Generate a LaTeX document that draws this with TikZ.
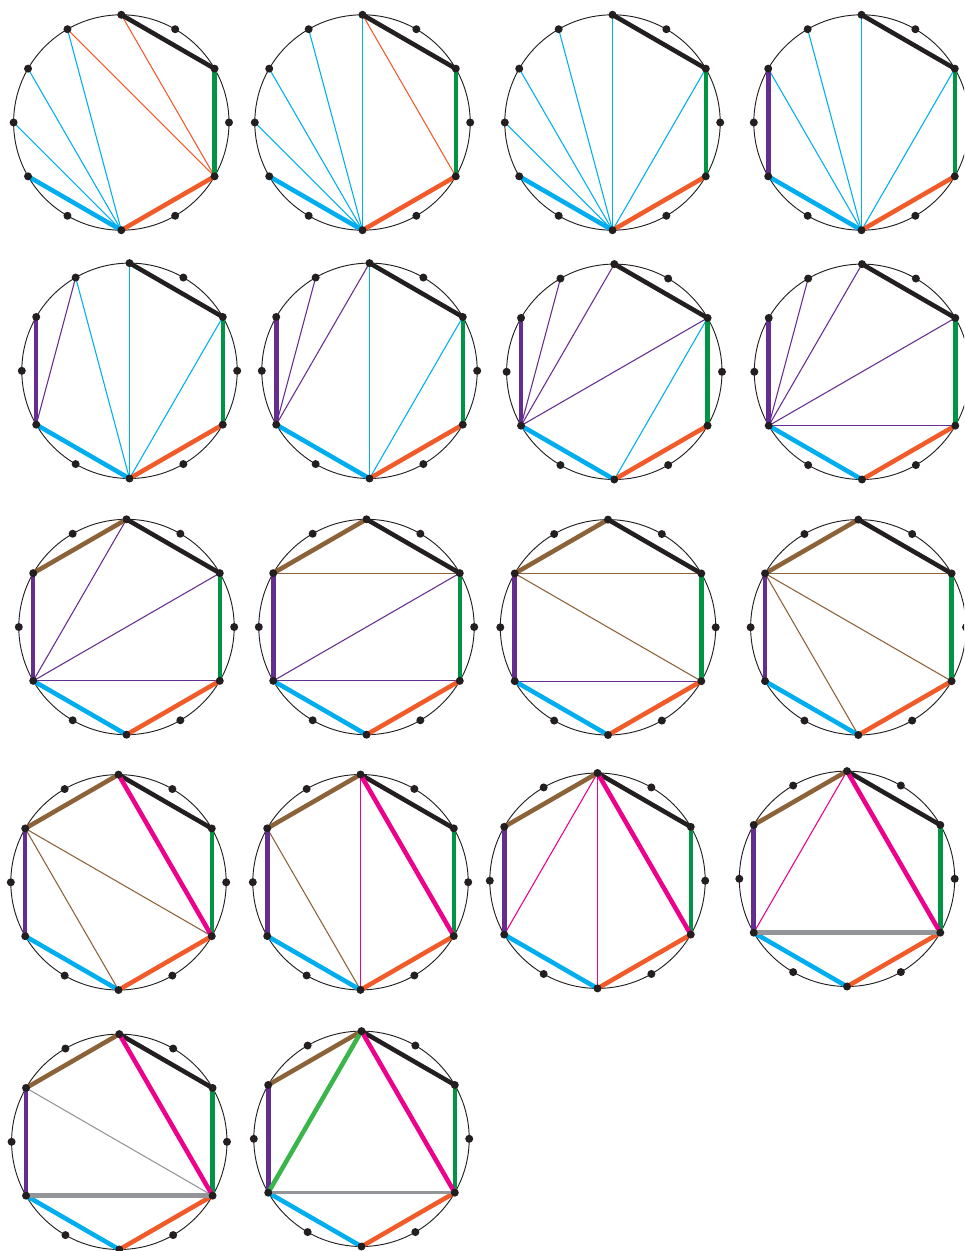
\documentclass[tikz,border=0pt]{standalone}
\usetikzlibrary{calc}
\definecolor{cBlack}{RGB}{35,31,32}
\definecolor{cGreen}{RGB}{0,148,68}
\definecolor{cOrange}{RGB}{241,90,41}
\definecolor{cCyan}{RGB}{0,174,239}
\definecolor{cPurple}{RGB}{102,45,145}
\definecolor{cBrown}{RGB}{140,98,57}
\definecolor{cMagenta}{RGB}{236,0,140}
\definecolor{cGray}{RGB}{147,149,152}
\definecolor{cLime}{RGB}{57,181,74}
\tikzset{
  rim/.style={draw=cBlack,line width=0.7pt},
  thick edge/.style={line width=3.4pt},
  diag/.style={line width=0.8pt},
  eBlack/.style={thick edge,draw=cBlack},
  eGreen/.style={thick edge,draw=cGreen},
  eOrange/.style={thick edge,draw=cOrange},
  eCyan/.style={thick edge,draw=cCyan},
  ePurple/.style={thick edge,draw=cPurple},
  eBrown/.style={thick edge,draw=cBrown},
  eMagenta/.style={thick edge,draw=cMagenta},
  eGray/.style={thick edge,draw=cGray},
  eLime/.style={thick edge,draw=cLime},
  dCyan/.style={diag,draw=cCyan},
  dOrange/.style={diag,draw=cOrange},
  dPurple/.style={diag,draw=cPurple},
  dBrown/.style={diag,draw=cBrown},
  dMagenta/.style={diag,draw=cMagenta},
  dGray/.style={diag,draw=cGray},
  dotmark/.style={fill=cBlack}
}
\newcommand\wheel[3]{%
  \draw[rim] (#2,#3) circle[radius=107.7];
  \foreach \k in {0,...,11}{%
    \pgfmathsetmacro\ang{30*\k-90}%
    \coordinate (#1-\k) at ($(#2,#3)+(\ang:107.7)$);}%
}
\newcommand\wheeldots[1]{\foreach \k in {0,...,11}{\fill[dotmark] (#1-\k) circle[radius=4];}}
\newcommand\edgesA[1]{%
  \draw[eBlack] (#1-0) -- (#1-2);
  \draw[eGreen] (#1-2) -- (#1-4);
  \draw[eOrange] (#1-4) -- (#1-6);
  \draw[eCyan] (#1-6) -- (#1-8);}
\newcommand\edgesB[1]{\edgesA{#1}\draw[ePurple] (#1-8) -- (#1-10);}
\newcommand\edgesC[1]{\edgesB{#1}\draw[eBrown] (#1-10) -- (#1-0);}
\begin{document}
\begin{tikzpicture}[x=0.75pt,y=-0.75pt]
\useasboundingbox (0,0) rectangle (964,1251);
\clip (0,0) rectangle (964,1251);
% row 1
\wheel{a}{121.3}{122.5}
\draw[dCyan] (a-6) -- (a-9); \draw[dCyan] (a-6) -- (a-10); \draw[dCyan] (a-6) -- (a-11);
\draw[dOrange] (a-4) -- (a-11); \draw[dOrange] (a-4) -- (a-0);
\edgesA{a}\wheeldots{a}

\wheel{b}{362.5}{122.5}
\draw[dCyan] (b-6) -- (b-9); \draw[dCyan] (b-6) -- (b-10); \draw[dCyan] (b-6) -- (b-11); \draw[dCyan] (b-6) -- (b-0);
\draw[dOrange] (b-4) -- (b-0);
\edgesA{b}\wheeldots{b}

\wheel{c}{612.5}{122.5}
\draw[dCyan] (c-6) -- (c-9); \draw[dCyan] (c-6) -- (c-10); \draw[dCyan] (c-6) -- (c-11); \draw[dCyan] (c-6) -- (c-0); \draw[dCyan] (c-6) -- (c-2);
\edgesA{c}\wheeldots{c}

\wheel{d}{861.5}{122.5}
\draw[dCyan] (d-6) -- (d-10); \draw[dCyan] (d-6) -- (d-11); \draw[dCyan] (d-6) -- (d-0); \draw[dCyan] (d-6) -- (d-2);
\edgesB{d}\wheeldots{d}
% row 2
\wheel{e}{129.5}{370.8}
\draw[dPurple] (e-8) -- (e-11);
\draw[dCyan] (e-6) -- (e-11); \draw[dCyan] (e-6) -- (e-0); \draw[dCyan] (e-6) -- (e-2);
\edgesB{e}\wheeldots{e}

\wheel{f}{369.5}{370.8}
\draw[dPurple] (f-8) -- (f-11); \draw[dPurple] (f-8) -- (f-0);
\draw[dCyan] (f-6) -- (f-0); \draw[dCyan] (f-6) -- (f-2);
\edgesB{f}\wheeldots{f}

\wheel{g}{614.3}{371.8}
\draw[dPurple] (g-8) -- (g-11); \draw[dPurple] (g-8) -- (g-0); \draw[dPurple] (g-8) -- (g-2);
\draw[dCyan] (g-6) -- (g-2);
\edgesB{g}\wheeldots{g}

\wheel{h}{862}{371.8}
\draw[dPurple] (h-8) -- (h-11); \draw[dPurple] (h-8) -- (h-0); \draw[dPurple] (h-8) -- (h-2); \draw[dPurple] (h-8) -- (h-4);
\edgesB{h}\wheeldots{h}
% row 3
\wheel{i}{126.5}{627}
\draw[dPurple] (i-8) -- (i-0); \draw[dPurple] (i-8) -- (i-2); \draw[dPurple] (i-8) -- (i-4);
\edgesC{i}\wheeldots{i}

\wheel{j}{366.5}{627}
\draw[dBrown] (j-10) -- (j-2);
\draw[dPurple] (j-8) -- (j-2); \draw[dPurple] (j-8) -- (j-4);
\edgesC{j}\wheeldots{j}

\wheel{k}{608}{627.3}
\draw[dBrown] (k-10) -- (k-2); \draw[dBrown] (k-10) -- (k-4);
\draw[dPurple] (k-8) -- (k-4);
\edgesC{k}\wheeldots{k}

\wheel{l}{858.3}{627.3}
\draw[dBrown] (l-10) -- (l-2); \draw[dBrown] (l-10) -- (l-4); \draw[dBrown] (l-10) -- (l-6);
\edgesC{l}\wheeldots{l}
% row 4
\wheel{m}{118.5}{882.3}
\draw[dBrown] (m-10) -- (m-4); \draw[dBrown] (m-10) -- (m-6);
\edgesC{m}\draw[eMagenta] (m-0) -- (m-4);\wheeldots{m}

\wheel{n}{360.5}{882.2}
\draw[dBrown] (n-10) -- (n-6); \draw[dMagenta] (n-0) -- (n-6);
\edgesC{n}\draw[eMagenta] (n-0) -- (n-4);\wheeldots{n}

\wheel{o}{597.5}{880.7}
\draw[dMagenta] (o-0) -- (o-8); \draw[dMagenta] (o-0) -- (o-6);
\edgesC{o}\draw[eMagenta] (o-0) -- (o-4);\wheeldots{o}

\wheel{p}{847}{878.8}
\draw[dMagenta] (p-0) -- (p-8);
\edgesC{p}\draw[eMagenta] (p-0) -- (p-4);\draw[eGray] (p-8) -- (p-4);\wheeldots{p}
% row 5
\wheel{q}{119.3}{1141.8}
\draw[dGray] (q-10) -- (q-4);
\edgesC{q}\draw[eMagenta] (q-0) -- (q-4);\draw[eGray] (q-8) -- (q-4);\wheeldots{q}

\wheel{r}{361.5}{1138.8}
\edgesC{r}\draw[eMagenta] (r-0) -- (r-4);\draw[eGray,line width=2.6pt] (r-8) -- (r-4);
\draw[eLime] (r-0) -- (r-8);\wheeldots{r}
\end{tikzpicture}
\end{document}
